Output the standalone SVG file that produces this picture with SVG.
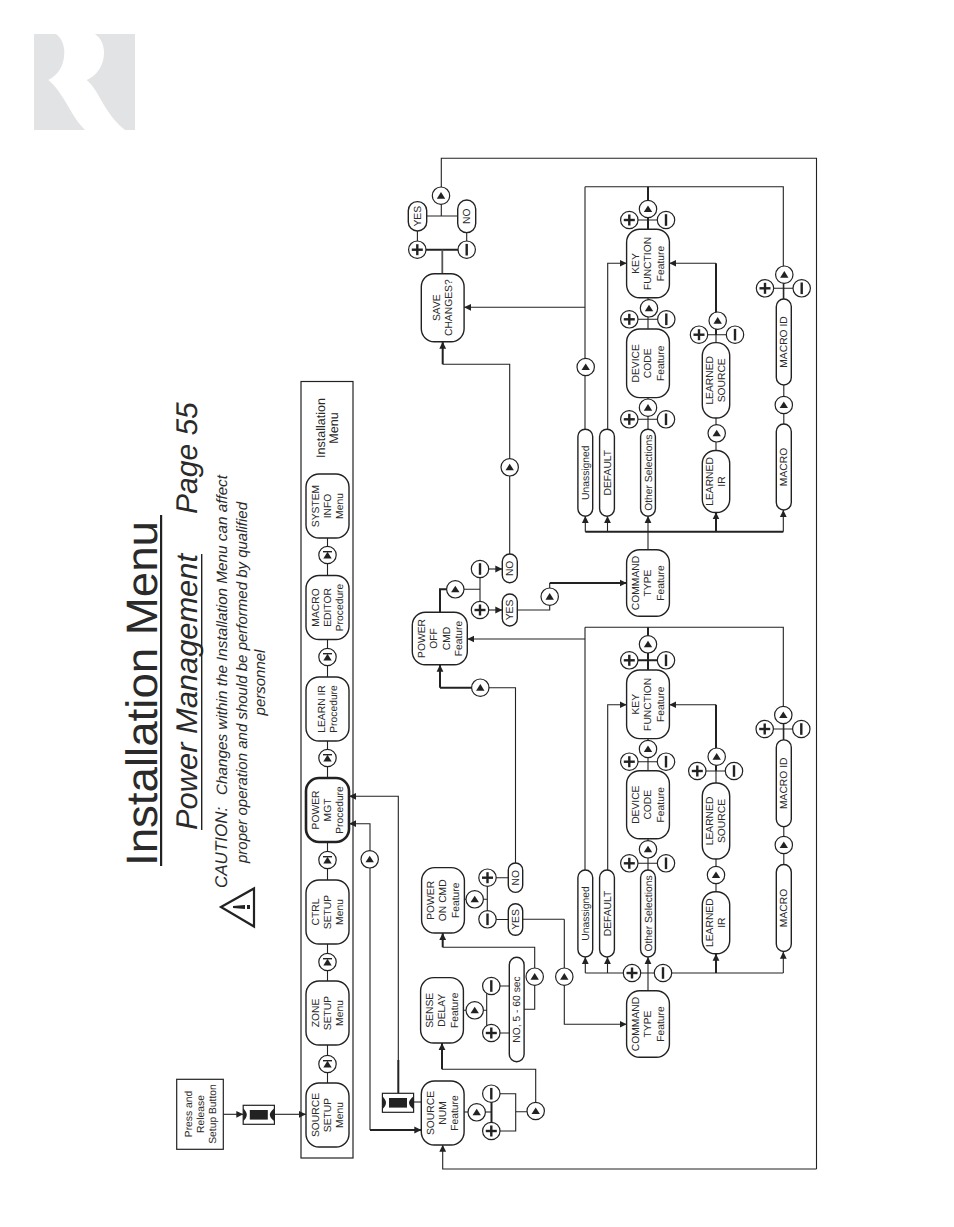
<svg xmlns="http://www.w3.org/2000/svg" xmlns:xlink="http://www.w3.org/1999/xlink" width="954" height="1227" viewBox="0 0 954 1227">
<style>
text{font-family:"Liberation Sans",Arial,sans-serif;fill:#2a2a2a;text-rendering:geometricPrecision}
.n rect{fill:#fff;stroke:#222;stroke-width:1.4}
.n text{font-size:10.3px;text-anchor:middle}
.n.big rect{stroke-width:2.6}
.c path{fill:none;stroke:#222;stroke-width:1.1}
.c path.t{stroke-width:2}
.c path.a{marker-end:url(#ah)}
.c path.g{stroke:#555;stroke-width:1.8}
.title{font-size:44px}
.sub{font-size:30px;font-style:italic}
.cau{font-size:15px;font-style:italic;text-anchor:middle}
.cb{fill:#fff;stroke:#222;stroke-width:1.2}
.dk{fill:#222}
</style>
<defs>
<marker id="ah" markerUnits="userSpaceOnUse" markerWidth="8" markerHeight="8" refX="7" refY="4" orient="auto"><path d="M0 0.6 L7 4 L0 7.4 Z" fill="#222"/></marker>
<g id="up"><circle class="cb" r="8.7"/><path class="dk" d="M0 -3.6 L4.2 3 L-4.2 3 Z"/></g>
<g id="stop"><circle class="cb" r="8.7"/><path class="dk" d="M0 -3.2 L4.2 3.4 L-4.2 3.4 Z"/><rect class="dk" x="-4.5" y="-4" width="9" height="1.4"/></g>
<g id="plus"><circle class="cb" r="8.7"/><rect class="dk" x="-5.5" y="-1.2" width="11" height="2.4"/><rect class="dk" x="-1.2" y="-5.5" width="2.4" height="11"/></g>
<g id="minus"><circle class="cb" r="8.7"/><rect class="dk" x="-1.2" y="-5.8" width="2.4" height="11.6"/></g>
<g id="btn"><rect class="cb" x="-15.6" y="-9.5" width="31.2" height="19"/><rect class="dk" x="-9" y="-4.8" width="18" height="9.6"/><path class="dk" d="M-15.6 -6.5 Q-12 -3 -12 0 Q-12 3 -15.6 6.5 Z M15.6 -6.5 Q11 -3 11 0 Q11 3 15.6 6.5 Z"/></g>
</defs>

<path id="logo" fill="#e2e3e5" d="M34 34 H56 C62 38 64.5 46 64.3 53 C64 66 58 75 48.3 80 C56 86 62 96 68 106 C73 115 79 124 85 130 H34 Z M95 34 H135 V130 H125 C117 124 110 115 104 105 C98 95 94 86 86.7 80 C96 76 104 66 104 53 C104 45 101 38 95 34 Z"/>

<!-- headings, all turned a quarter turn -->
<text class="title" transform="translate(156.5 866) rotate(-90)" textLength="345" lengthAdjust="spacingAndGlyphs">Installation Menu</text>
<rect class="dk" x="160" y="515" width="2.2" height="351"/>
<text class="sub" transform="translate(197 830) rotate(-90)" textLength="276" lengthAdjust="spacingAndGlyphs">Power Management</text>
<rect class="dk" x="201" y="554" width="1.4" height="276"/>
<text class="sub" transform="translate(197 514) rotate(-90)">Page 55</text>
<text transform="translate(227 888) rotate(-90)" font-size="17" font-style="italic">CAUTION:</text>
<text transform="translate(227 795) rotate(-90)" font-size="15" font-style="italic" textLength="320" lengthAdjust="spacingAndGlyphs">Changes within the Installation Menu can affect</text>
<text class="cau" transform="translate(246.5 682.5) rotate(-90)">proper operation and should be performed by qualified</text>
<text class="cau" transform="translate(265 682.5) rotate(-90)">personnel</text>
<g id="warning"><path d="M221 907 L254 888.5 V926.5 Z" fill="#fff" stroke="#222" stroke-width="2.2"/><path class="dk" d="M233 906 L245 905 V909 L233 908 Z"/><rect class="dk" x="247" y="905" width="3" height="4"/></g>

<!-- menu frame -->
<rect x="301" y="381.5" width="52" height="776.5" fill="none" stroke="#222" stroke-width="1.2"/>
<text transform="translate(324.5 428) rotate(-90)" font-size="12.5" text-anchor="middle">Installation</text>
<text transform="translate(338 428) rotate(-90)" font-size="12.5" text-anchor="middle">Menu</text>

<!-- connectors -->
<g id="connectors" class="c">
<path d="M327.5 1083 V1045 M327.5 981 V944 M327.5 880 V842 M327.5 778 V741 M327.5 677 V639 M327.5 576 V538"/>
<path class="a" d="M223.3 1114.3 H243.3"/>
<path class="a" d="M274.3 1114.3 H306"/>
<path class="t" d="M398.3 1093 V1060"/>
<path class="a" d="M398.3 1060 V796.3 H349"/>
<path class="a" d="M370 1130 V823.7 H349"/>
<path class="t a" d="M370 1130 H421.3"/>
<path d="M413.7 1102 H421.3"/>
<path d="M464 1112 H491"/>
<path class="t" d="M491.5 1094 V1131"/>
<path d="M491 1093.7 H515.7 V1131 H491 M515.7 1111.7 H536"/>
<path d="M535.7 1111 V1069.3 H442"/>
<path class="t a" d="M442 1069.3 V1043"/>
<path class="a" d="M816.5 1169 H442.7 V1144.7"/>
<path d="M816.5 1169 V158.3 H441.3 V216 M426.7 216 H457.7"/>
<path d="M417.4 231 V250 M466.7 232.7 V250"/>
<path class="t" d="M417 249.7 H467"/>
<path class="g" d="M442.3 249.7 V273.7"/>
<path d="M463.3 1010.3 H487 M486.7 986 V1033 M487 986 H509.3 M487 1033 H509.3"/>
<path d="M524 1009.3 H534.7 V947.3 H442.7"/>
<path class="t a" d="M442.7 947.3 V933"/>
<path d="M464 899.3 H487.3 M487.3 877.7 V919.5 M487.3 877.7 H515.5 M487.3 919.5 H515.5"/>
<path d="M515.5 863 V687.7 H480"/>
<path class="t" d="M480 687.7 H440"/>
<path class="t a" d="M440 687.7 V664.7"/>
<path d="M522.7 919.3 H564.3"/>
<path class="a" d="M564.3 919.3 V1024.3 H626.7"/>
<path class="a" d="M648 990.7 V957"/>
<path d="M585.3 973 H783.3"/>
<path class="a" d="M585.3 973 V957"/>
<path class="a" d="M607.5 973 V957"/>
<path class="t a" d="M716 973 V953.7"/>
<path class="a" d="M783.3 973 V951.7"/>
<path d="M648 870 V838.7 M629.3 863.3 H666"/>
<path d="M648 770.7 V738.7 M629.3 761.7 H666"/>
<path class="t" d="M648 670 V627.3 M629.3 660.3 H666"/>
<path d="M585 627.3 H783.3 V740 M585 870 V627.3"/>
<path class="a" d="M585 639 H467.3"/>
<path class="a" d="M607.7 870 V704.7 H626.7"/>
<path d="M716 891.7 V859"/>
<path d="M716 783.3 V748 M697.3 771 H734"/>
<path class="t" d="M716 771 V704.7"/>
<path class="a" d="M716 704.7 H669.3"/>
<path d="M783.8 864.7 V826.7 M783.8 740 V715 M764.7 729 H801.3"/>
<!-- second branch -->
<path class="t" d="M440 612.3 V589.3 H447"/>
<path d="M447 589.3 H480 M480 569 V610"/>
<path class="a" d="M480 569 H502.3"/>
<path class="a" d="M480 610 H502.3"/>
<path d="M517.3 610 H549.7 V583"/>
<path class="t a" d="M549.7 583 H626.7"/>
<path class="a" d="M648 550 V516"/>
<path class="t" d="M585.3 531.7 H783.3"/>
<path class="a" d="M585.3 531.7 V516"/>
<path class="a" d="M607.5 531.7 V516"/>
<path class="t a" d="M716 531.7 V512.3"/>
<path class="a" d="M783.3 531.7 V510"/>
<path d="M648 429.3 V397.7 M629.3 419.3 H666"/>
<path d="M648 329 V297.7 M629.3 319.3 H666"/>
<path class="t" d="M648 229.3 V186.7"/>
<path d="M629.3 220 H666"/>
<path d="M585 186.7 H783.3 V299 M585 429.3 V186.7"/>
<path class="a" d="M585 307.3 H464"/>
<path class="a" d="M607.7 429.3 V263.3 H626.7"/>
<path d="M716 450.7 V418"/>
<path d="M716 342.7 V320 M699 334.7 H735"/>
<path class="t" d="M716 335 V263.3"/>
<path class="a" d="M716 263.3 H669.3"/>
<path d="M783.8 424 V385.3 M783.8 299 V275 M765 288.3 H801.7"/>
<path d="M509.7 554 V364.3 H442.7"/>
<path class="t a" d="M442.7 364.3 V341.7"/>
</g>

<!-- press buttons -->
<g id="press"><rect x="176.7" y="1079.3" width="46.6" height="70" fill="#fff" stroke="#222" stroke-width="1.2"/><g font-size="10.3" text-anchor="middle"><text transform="translate(191.5 1114) rotate(-90)">Press and</text><text transform="translate(203.7 1114) rotate(-90)">Release</text><text transform="translate(216 1114) rotate(-90)">Setup Button</text></g></g>
<use id="btn-setup" xlink:href="#btn" href="#btn" x="258.8" y="1114.8"/>
<use id="btn-source" xlink:href="#btn" href="#btn" x="398" y="1102.8"/>

<!-- menu nodes -->
<g id="source-setup" class="n" transform="translate(327.5 1115) rotate(-90)"><rect x="-32" y="-21.5" width="64" height="43" rx="13"/><text y="-9">SOURCE</text><text y="3.4">SETUP</text><text y="15.7">Menu</text></g>
<g id="zone-setup" class="n" transform="translate(327.5 1013) rotate(-90)"><rect x="-32" y="-21.5" width="64" height="43" rx="13"/><text y="-9">ZONE</text><text y="3.4">SETUP</text><text y="15.7">Menu</text></g>
<g id="ctrl-setup" class="n" transform="translate(327.5 912) rotate(-90)"><rect x="-32" y="-21.5" width="64" height="43" rx="13"/><text y="-9">CTRL</text><text y="3.4">SETUP</text><text y="15.7">Menu</text></g>
<g id="power-mgt" class="n big" transform="translate(327.5 810) rotate(-90)"><rect x="-32" y="-21.5" width="64" height="43" rx="13"/><text y="-9">POWER</text><text y="3.4">MGT</text><text y="15.7">Procedure</text></g>
<g id="learn-ir" class="n" transform="translate(327.5 709) rotate(-90)"><rect x="-32" y="-21.5" width="64" height="43" rx="13"/><text y="-3">LEARN IR</text><text y="9.3">Procedure</text></g>
<g id="macro-editor" class="n" transform="translate(327.5 607.5) rotate(-90)"><rect x="-32" y="-21.5" width="64" height="43" rx="13"/><text y="-9">MACRO</text><text y="3.4">EDITOR</text><text y="15.7">Procedure</text></g>
<g id="system-info" class="n" transform="translate(327.5 506) rotate(-90)"><rect x="-32" y="-21.5" width="64" height="43" rx="13"/><text y="-9">SYSTEM</text><text y="3.4">INFO</text><text y="15.7">Menu</text></g>
<use id="step-1" xlink:href="#stop" href="#stop" x="327.5" y="1064"/>
<use id="step-2" xlink:href="#stop" href="#stop" x="327.5" y="962"/>
<use id="step-3" xlink:href="#stop" href="#stop" x="327.5" y="860"/>
<use id="step-4" xlink:href="#stop" href="#stop" x="327.5" y="758"/>
<use id="step-5" xlink:href="#stop" href="#stop" x="327.5" y="657"/>
<use id="step-6" xlink:href="#stop" href="#stop" x="327.5" y="555"/>
<use id="back" xlink:href="#up" href="#up" x="369.7" y="859.3"/>

<!-- feature nodes -->
<g id="source-num" class="n" transform="translate(442.7 1113) rotate(-90)"><rect x="-32" y="-21.4" width="64" height="42.8" rx="13"/><text y="-9">SOURCE</text><text y="3.4">NUM</text><text y="15.7">Feature</text></g>
<g id="sense-delay" class="n" transform="translate(442 1010.3) rotate(-90)"><rect x="-32.7" y="-21.4" width="65.4" height="42.8" rx="13"/><text y="-9">SENSE</text><text y="3.4">DELAY</text><text y="15.7">Feature</text></g>
<g id="power-on" class="n" transform="translate(443 900.3) rotate(-90)"><rect x="-32.7" y="-21.4" width="65.4" height="42.8" rx="13"/><text y="-9">POWER</text><text y="3.4">ON CMD</text><text y="15.7">Feature</text></g>
<g id="power-off" class="n" transform="translate(439.8 638.5) rotate(-90)"><rect x="-26.2" y="-27.5" width="52.4" height="55" rx="13"/><text y="-15">POWER</text><text y="-2.5">OFF</text><text y="10">CMD</text><text y="22.3">Feature</text></g>
<g id="save-changes" class="n" transform="translate(442.7 307.7) rotate(-90)"><rect x="-34" y="-21.4" width="68" height="42.8" rx="13"/><text y="-3">SAVE</text><text y="9.3">CHANGES?</text></g>
<g id="command-type-on" class="n" transform="translate(648 1024) rotate(-90)"><rect x="-33.2" y="-21.4" width="66.4" height="42.8" rx="13"/><text y="-9">COMMAND</text><text y="3.4">TYPE</text><text y="15.7">Feature</text></g>
<g id="device-code-on" class="n" transform="translate(648 804.7) rotate(-90)"><rect x="-34" y="-21.4" width="68" height="42.8" rx="13"/><text y="-9">DEVICE</text><text y="3.4">CODE</text><text y="15.7">Feature</text></g>
<g id="key-function-on" class="n" transform="translate(648 704.3) rotate(-90)"><rect x="-34.3" y="-21.4" width="68.6" height="42.8" rx="13"/><text y="-9">KEY</text><text y="3.4">FUNCTION</text><text y="15.7">Feature</text></g>
<g id="command-type-off" class="n" transform="translate(648 583) rotate(-90)"><rect x="-33.2" y="-21.4" width="66.4" height="42.8" rx="13"/><text y="-9">COMMAND</text><text y="3.4">TYPE</text><text y="15.7">Feature</text></g>
<g id="device-code-off" class="n" transform="translate(648 363.3) rotate(-90)"><rect x="-34.3" y="-21.4" width="68.6" height="42.8" rx="13"/><text y="-9">DEVICE</text><text y="3.4">CODE</text><text y="15.7">Feature</text></g>
<g id="key-function-off" class="n" transform="translate(648 263.5) rotate(-90)"><rect x="-34.2" y="-21.4" width="68.4" height="42.8" rx="13"/><text y="-9">KEY</text><text y="3.4">FUNCTION</text><text y="15.7">Feature</text></g>

<g id="unassigned-on" class="n" transform="translate(585.3 913.5) rotate(-90)"><rect x="-43.5" y="-7.4" width="87" height="14.8" rx="7.4"/><text y="3.5">Unassigned</text></g>
<g id="default-on" class="n" transform="translate(607 913.5) rotate(-90)"><rect x="-43.5" y="-7.4" width="87" height="14.8" rx="7.4"/><text y="3.5">DEFAULT</text></g>
<g id="other-on" class="n" transform="translate(648 913.5) rotate(-90)"><rect x="-43.5" y="-7.4" width="87" height="14.8" rx="7.4"/><text y="3.5">Other Selections</text></g>
<g id="macro-on" class="n" transform="translate(783.8 908) rotate(-90)"><rect x="-43.5" y="-7.5" width="87" height="15" rx="7.5"/><text y="3.5">MACRO</text></g>
<g id="macro-id-on" class="n" transform="translate(783.8 783.3) rotate(-90)"><rect x="-43.4" y="-7.5" width="86.8" height="15" rx="7.5"/><text y="3.5">MACRO ID</text></g>
<g id="learned-ir-on" class="n" transform="translate(716 922.7) rotate(-90)"><rect x="-31" y="-13.7" width="62" height="27.4" rx="13"/><text y="-3">LEARNED</text><text y="9.3">IR</text></g>
<g id="learned-source-on" class="n" transform="translate(716 821) rotate(-90)"><rect x="-38" y="-13.7" width="76" height="27.4" rx="13"/><text y="-3">LEARNED</text><text y="9.3">SOURCE</text></g>
<g id="unassigned-off" class="n" transform="translate(585.3 472.7) rotate(-90)"><rect x="-43.5" y="-7.4" width="87" height="14.8" rx="7.4"/><text y="3.5">Unassigned</text></g>
<g id="default-off" class="n" transform="translate(607 472.7) rotate(-90)"><rect x="-43.5" y="-7.4" width="87" height="14.8" rx="7.4"/><text y="3.5">DEFAULT</text></g>
<g id="other-off" class="n" transform="translate(648 472.7) rotate(-90)"><rect x="-43.5" y="-7.4" width="87" height="14.8" rx="7.4"/><text y="3.5">Other Selections</text></g>
<g id="macro-off" class="n" transform="translate(783.8 467) rotate(-90)"><rect x="-43" y="-7.5" width="86" height="15" rx="7.5"/><text y="3.5">MACRO</text></g>
<g id="macro-id-off" class="n" transform="translate(783.8 342) rotate(-90)"><rect x="-43" y="-7.5" width="86" height="15" rx="7.5"/><text y="3.5">MACRO ID</text></g>
<g id="learned-ir-off" class="n" transform="translate(716 481.5) rotate(-90)"><rect x="-31" y="-13.7" width="62" height="27.4" rx="13"/><text y="-3">LEARNED</text><text y="9.3">IR</text></g>
<g id="learned-source-off" class="n" transform="translate(716 380.3) rotate(-90)"><rect x="-37.7" y="-13.7" width="75.4" height="27.4" rx="13"/><text y="-3">LEARNED</text><text y="9.3">SOURCE</text></g>

<g id="delay-range" class="n" transform="translate(516.7 1009.5) rotate(-90)"><rect x="-52.2" y="-7.4" width="104.4" height="14.8" rx="7.4"/><text y="3.5">NO, 5 - 60 sec</text></g>
<g id="on-yes" class="n" transform="translate(515.5 919.5) rotate(-90)"><rect x="-15.8" y="-7.2" width="31.6" height="14.4" rx="7.2"/><text y="3.5">YES</text></g>
<g id="on-no" class="n" transform="translate(515.5 877.7) rotate(-90)"><rect x="-14.7" y="-7.2" width="29.4" height="14.4" rx="7.2"/><text y="3.5">NO</text></g>
<g id="off-yes" class="n" transform="translate(509.8 610) rotate(-90)"><rect x="-16" y="-7.5" width="32" height="15" rx="7.5"/><text y="3.5">YES</text></g>
<g id="off-no" class="n" transform="translate(509.8 568.4) rotate(-90)"><rect x="-14.4" y="-7.5" width="28.8" height="15" rx="7.5"/><text y="3.5">NO</text></g>
<g id="save-yes" class="n" transform="translate(417.5 216.3) rotate(-90)"><rect x="-14.7" y="-9.2" width="29.4" height="18.4" rx="9"/><text y="3.5">YES</text></g>
<g id="save-no" class="n" transform="translate(466.7 216.3) rotate(-90)"><rect x="-16.3" y="-9" width="32.6" height="18" rx="9"/><text y="3.5">NO</text></g>

<!-- selector buttons -->
<g id="selectors">
<use xlink:href="#up" href="#up" x="476.7" y="1112.3"/><use xlink:href="#minus" href="#minus" x="491.3" y="1093.7"/><use xlink:href="#plus" href="#plus" x="491.3" y="1131"/><use xlink:href="#up" href="#up" x="535.7" y="1111"/>
<use xlink:href="#up" href="#up" x="474.7" y="1010.3"/><use xlink:href="#minus" href="#minus" x="491.3" y="986"/><use xlink:href="#plus" href="#plus" x="491.3" y="1033"/><use xlink:href="#up" href="#up" x="534.7" y="976.7"/>
<use xlink:href="#up" href="#up" x="474.7" y="899.3"/><use xlink:href="#plus" href="#plus" x="487.5" y="877.7"/><use xlink:href="#minus" href="#minus" x="487.5" y="919.3"/>
<use xlink:href="#up" href="#up" x="480.3" y="687.7"/><use xlink:href="#up" href="#up" x="564.3" y="976.7"/>
<use xlink:href="#plus" href="#plus" x="632" y="973"/><use xlink:href="#minus" href="#minus" x="663" y="973"/>
<use xlink:href="#up" href="#up" x="648" y="849.3"/><use xlink:href="#plus" href="#plus" x="629.3" y="863.3"/><use xlink:href="#minus" href="#minus" x="666" y="863.3"/>
<use xlink:href="#up" href="#up" x="648" y="749"/><use xlink:href="#plus" href="#plus" x="629.3" y="761.7"/><use xlink:href="#minus" href="#minus" x="666" y="761.7"/>
<use xlink:href="#up" href="#up" x="648" y="644.3"/><use xlink:href="#plus" href="#plus" x="629.3" y="660.3"/><use xlink:href="#minus" href="#minus" x="666" y="660.3"/>
<use xlink:href="#up" href="#up" x="716" y="875"/><use xlink:href="#up" href="#up" x="716.7" y="756.7"/><use xlink:href="#plus" href="#plus" x="697.3" y="771"/><use xlink:href="#minus" href="#minus" x="734" y="771"/>
<use xlink:href="#up" href="#up" x="783.8" y="845"/><use xlink:href="#up" href="#up" x="783.3" y="715"/><use xlink:href="#plus" href="#plus" x="764.7" y="729"/><use xlink:href="#minus" href="#minus" x="801.3" y="729"/>
<use xlink:href="#up" href="#up" x="455.3" y="589.3"/><use xlink:href="#minus" href="#minus" x="480" y="569"/><use xlink:href="#plus" href="#plus" x="480" y="610"/><use xlink:href="#up" href="#up" x="549.7" y="596.7"/>
<use xlink:href="#up" href="#up" x="509.7" y="467.3"/><use xlink:href="#up" href="#up" x="585.7" y="367"/>
<use xlink:href="#up" href="#up" x="648" y="407.7"/><use xlink:href="#plus" href="#plus" x="629.3" y="419.3"/><use xlink:href="#minus" href="#minus" x="666" y="419.3"/>
<use xlink:href="#up" href="#up" x="649" y="308.3"/><use xlink:href="#plus" href="#plus" x="629.3" y="319.3"/><use xlink:href="#minus" href="#minus" x="666.3" y="319.3"/>
<use xlink:href="#up" href="#up" x="648" y="209"/><use xlink:href="#plus" href="#plus" x="629.3" y="220"/><use xlink:href="#minus" href="#minus" x="666" y="220"/>
<use xlink:href="#up" href="#up" x="716.7" y="433.3"/><use xlink:href="#up" href="#up" x="717.7" y="320.7"/><use xlink:href="#plus" href="#plus" x="699" y="334.7"/><use xlink:href="#minus" href="#minus" x="735" y="334.7"/>
<use xlink:href="#up" href="#up" x="783.8" y="405"/><use xlink:href="#up" href="#up" x="784.3" y="274.7"/><use xlink:href="#plus" href="#plus" x="765" y="288.3"/><use xlink:href="#minus" href="#minus" x="801.7" y="288.3"/>
<use xlink:href="#up" href="#up" x="441" y="195.7"/><use xlink:href="#plus" href="#plus" x="417.3" y="249.7"/><use xlink:href="#minus" href="#minus" x="466.7" y="249.7"/>
</g>
</svg>
